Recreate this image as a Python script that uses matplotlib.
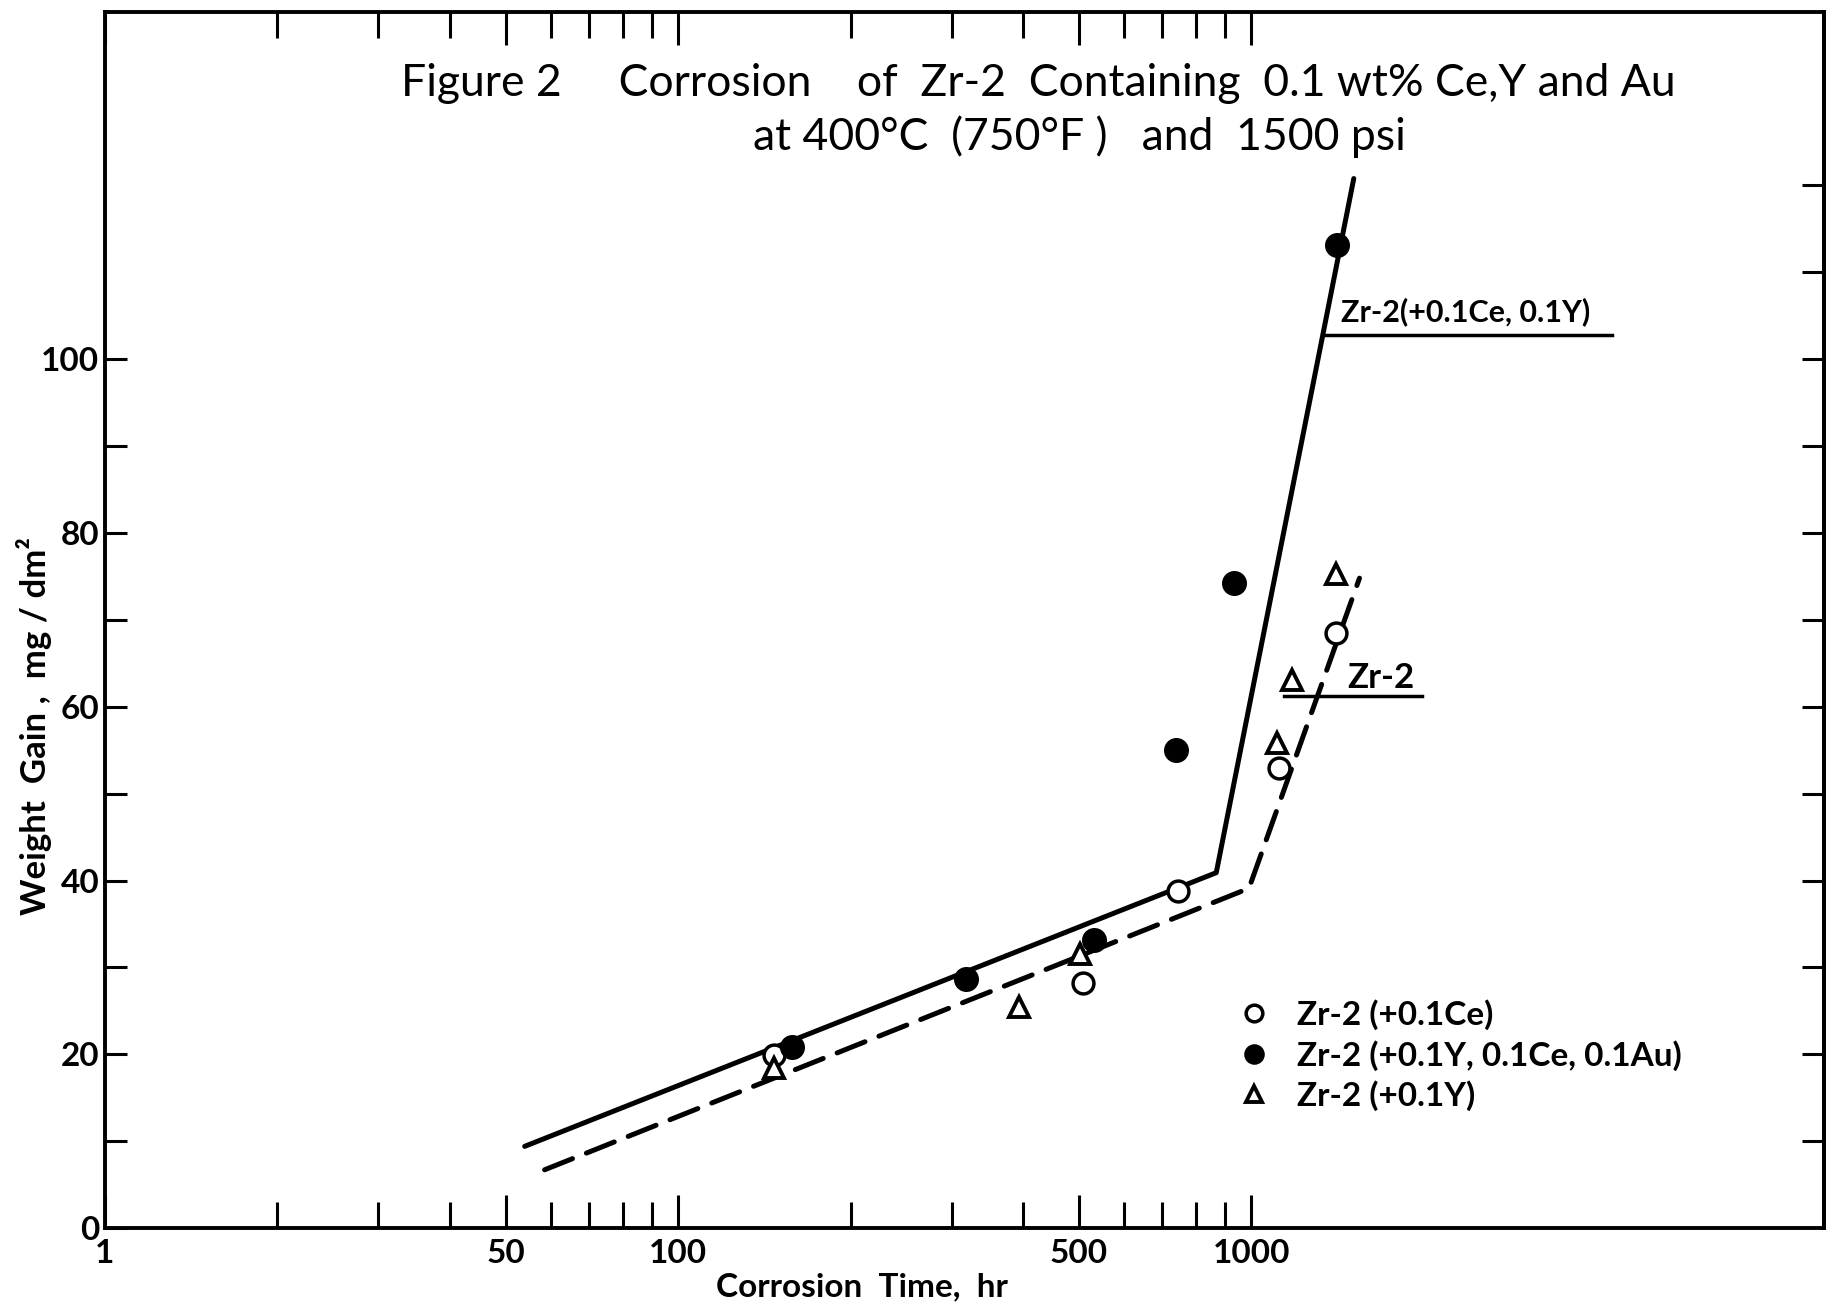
import numpy as np
import matplotlib.pyplot as plt
from matplotlib.ticker import FixedLocator, NullFormatter

plt.rcParams['font.family'] = ['Lato', 'DejaVu Sans']

# corrosion time (hr) and weight gain (mg/dm2)
ce_time = [147, 508, 745, 1119, 1406]
ce_gain = [19.9, 28.2, 38.8, 53.0, 68.5]

yceau_time = [158, 318, 532, 738, 933, 1412]
yceau_gain = [20.8, 28.7, 33.2, 55.0, 74.2, 113.2]

y_time = [147, 394, 503, 1109, 1178, 1406]
y_gain = [18.4, 25.4, 31.5, 55.8, 63.1, 75.3]

# fitted curves
fit_cey_time = [54, 869, 1510]
fit_cey_gain = [9.4, 40.9, 120.8]
fit_zr2_time = [58.5, 991, 1545]
fit_zr2_gain = [6.7, 39.1, 74.8]

xtick_vals = [10, 50, 100, 500, 1000]
xtick_labels = ['1', '50', '100', '500', '1000']
xminor_vals = [20, 30, 40, 60, 70, 80, 90, 200, 300, 400, 600, 700, 800, 900]
ytick_vals = [0, 20, 40, 60, 80, 100]

fig = plt.figure(figsize=(18.28, 13.05), dpi=100)
ax = fig.add_axes([0.0574, 0.059, 0.9406, 0.932])

ax.plot(fit_cey_time, fit_cey_gain, color='black', lw=3.6, solid_capstyle='round')
ax.plot(fit_zr2_time, fit_zr2_gain, color='black', lw=3.6, linestyle=(0, (6, 3)),
        dash_capstyle='round')

h1, = ax.plot(ce_time, ce_gain, 'o', ms=15, mfc='white', mec='black', mew=2.5,
              label='Zr-2 (+0.1Ce)')
h2, = ax.plot(yceau_time, yceau_gain, 'o', ms=16, mfc='black', mec='black', mew=2,
              label='Zr-2 (+0.1Y, 0.1Ce, 0.1Au)')
h3, = ax.plot(y_time, y_gain, '^', ms=15, mfc='white', mec='black', mew=2.8,
              label='Zr-2 (+0.1Y)')

# curve labels with underline leaders
ax.text(1432, 105.5, 'Zr-2(+0.1Ce, 0.1Y)', fontsize=22, fontweight='bold', va='center')
ax.plot([1343, 4256], [102.8, 102.8], color='black', lw=2.5)
ax.text(1470, 63.3, 'Zr-2', fontsize=25, fontweight='bold', va='center')
ax.plot([1140, 1986], [61.2, 61.2], color='black', lw=2.5)

ax.legend(handles=[h1, h2, h3], loc='upper left', bbox_to_anchor=(0.643, 0.213),
          frameon=False, handlelength=0.8, handletextpad=0.9, labelspacing=0.3,
          markerscale=0.8, prop={'size': 24, 'weight': 'bold'})

ax.text(0.543, 0.9406, 'Figure 2     Corrosion    of  Zr-2  Containing  0.1 wt% Ce,Y and Au',
        transform=ax.transAxes, ha='center', va='center', fontsize=32)
ax.text(0.567, 0.897, 'at 400\u00b0C  (750\u00b0F )   and  1500 psi',
        transform=ax.transAxes, ha='center', va='center', fontsize=32)

ax.set_xscale('log')
ax.set_xlim(10, 10000)
ax.set_ylim(0, 140)

ax.xaxis.set_major_locator(FixedLocator(xtick_vals))
ax.set_xticklabels(xtick_labels)
ax.xaxis.set_minor_locator(FixedLocator(xminor_vals))
ax.xaxis.set_minor_formatter(NullFormatter())
ax.set_yticks(ytick_vals)
ax.yaxis.set_minor_locator(FixedLocator([10, 30, 50, 70, 90]))

ax.tick_params(axis='x', which='major', direction='in', top=True, length=24, width=2.2,
               labelsize=24, pad=8)
ax.tick_params(axis='x', which='minor', direction='in', top=True, length=19, width=2.2)
ax.tick_params(axis='y', which='both', direction='in', length=16, width=2.2,
               labelsize=24, pad=4)
for lab in ax.get_xticklabels() + ax.get_yticklabels():
    lab.set_fontweight('bold')

sec = ax.secondary_yaxis('right')
sec.set_yticks(list(range(10, 130, 10)))
sec.tick_params(direction='in', length=16, width=2.2, labelright=False)
sec.spines['right'].set_linewidth(2.8)

for sp in ax.spines.values():
    sp.set_linewidth(2.8)

ax.set_xlabel('Corrosion  Time,  hr', fontsize=24, fontweight='bold', va='center')
ax.xaxis.set_label_coords(0.44, -0.048)
ax.set_ylabel('Weight  Gain ,  mg / dm\u00b2', fontsize=25, fontweight='bold',
              va='center')
ax.yaxis.set_label_coords(-0.041, 0.413)

fig.savefig('out.png', dpi=100)
